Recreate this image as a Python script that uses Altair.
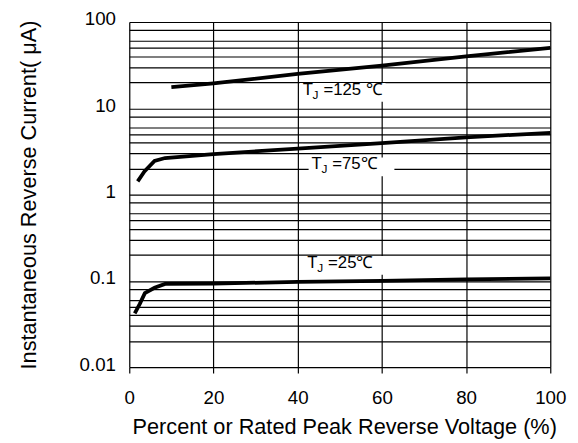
import altair as alt
import pandas as pd

# ---- data ----
x125 = [10, 20, 40, 60, 80, 100]
y125 = [17.6, 19.5, 25.0, 31.2, 40.0, 50.0]

x75 = [2, 3.6, 6, 8.5, 20, 40, 60, 80, 100]
y75 = [1.42, 1.85, 2.45, 2.65, 2.95, 3.4, 3.95, 4.6, 5.2]

x25 = [1.3, 2.5, 3.7, 6, 8.5, 20, 40, 60, 80, 100]
y25 = [0.042, 0.054, 0.072, 0.083, 0.092, 0.093, 0.097, 0.100, 0.104, 0.107]

x_ticks = [0, 20, 40, 60, 80, 100]
y_labels = [0.01, 0.1, 1, 10, 100]
y_grid = [m * 10 ** e for e in range(-2, 2) for m in (1, 2, 3, 4, 5, 6, 8)] + [100]

label_x = [41.2, 43.3, 42.3]
label_y = [16.3, 2.24, 0.161]
label_text = ["=125 ℃", "=75℃", "=25℃"]

FONT = "Liberation Sans"

curves = pd.concat([
    pd.DataFrame({"x": x125, "y": y125, "series": "125"}),
    pd.DataFrame({"x": x75, "y": y75, "series": "75"}),
    pd.DataFrame({"x": x25, "y": y25, "series": "25"}),
])
labels = pd.DataFrame({"x": label_x, "y": label_y, "t": label_text})

label_expr = "indexof([" + ",".join(str(v) for v in y_labels) + "], datum.value) >= 0 ? datum.label : ''"

X = alt.X(
    "x:Q",
    scale=alt.Scale(domain=[0, 100], nice=False, zero=False),
    axis=alt.Axis(
        values=x_ticks, grid=True, gridColor="black", gridWidth=1.2, gridOpacity=1,
        domain=False, ticks=True, tickSize=6, tickColor="black", tickWidth=1.2,
        labelFontSize=19, labelColor="black", labelFont=FONT,
        labelBaseline="alphabetic", labelPadding=31, labelFlush=False,
        title="Percent or Rated Peak Reverse Voltage (%)",
        titleFontSize=22, titleFontWeight="normal", titleFont=FONT, titleColor="black",
        titleBaseline="alphabetic", titleAlign="center", titleX=218, titleY=67,
    ),
)
Y = alt.Y(
    "y:Q",
    scale=alt.Scale(type="log", domain=[0.01, 100], nice=False),
    axis=alt.Axis(
        values=y_grid, grid=True, gridColor="black", gridWidth=1.2, gridOpacity=1,
        domain=False, ticks=False, format="~g", labelExpr=label_expr,
        labelOverlap=False, labelFontSize=19, labelColor="black", labelFont=FONT,
        labelBaseline="middle", labelPadding=14, labelOffset=-3, labelFlush=False,
        title="Instantaneous Reverse Current( μA)",
        titleFontSize=22, titleFontWeight="normal", titleFont=FONT, titleColor="black",
        titleBaseline="alphabetic", titleAlign="center", titleAngle=-90,
        titleX=-95, titleY=175,
    ),
)

rects = alt.Chart(labels).mark_rect(
    color="white", xOffset=-3, x2Offset=84, yOffset=-7, y2Offset=12
).encode(x=X, x2="x:Q", y=Y, y2="y:Q")

lines = alt.Chart(curves).mark_line(color="black", strokeWidth=3.8).encode(
    x=X, y=Y, detail="series:N"
)

t_main = alt.Chart(labels).mark_text(
    align="left", baseline="middle", fontSize=17, font=FONT, color="black"
).encode(x=X, y=Y, text=alt.value("T"))
t_sub = alt.Chart(labels).mark_text(
    align="left", baseline="middle", fontSize=12, font=FONT, color="black", dx=10, dy=5
).encode(x=X, y=Y, text=alt.value("J"))
t_rest = alt.Chart(labels).mark_text(
    align="left", baseline="middle", fontSize=17, font=FONT, color="black", dx=21
).encode(x=X, y=Y, text="t:N")

chart = alt.layer(rects, lines, t_main, t_sub, t_rest).properties(
    width=427, height=350,
    autosize=alt.AutoSizeParams(type="none"),
    padding={"left": 123, "top": 11, "right": 20, "bottom": 90},
).configure_view(
    stroke="black", strokeWidth=3
).configure(background="white")

chart.save("out.html", embed_options={"renderer": "svg", "actions": False})
